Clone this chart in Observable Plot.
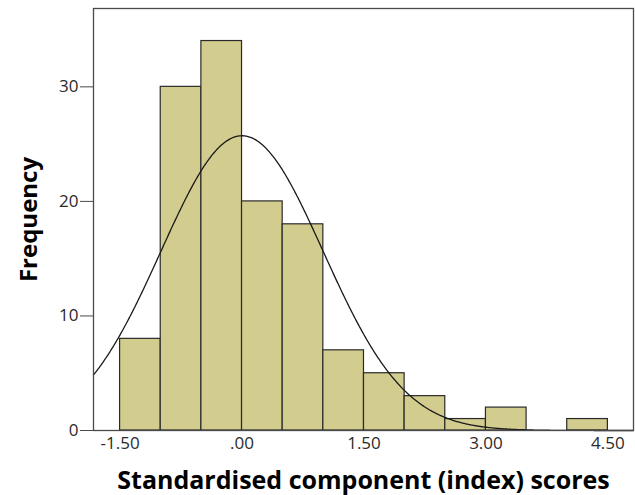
<!DOCTYPE html>
<html>
<head>
<meta charset="utf-8">
<script src="https://cdn.jsdelivr.net/npm/d3@7"></script>
<script src="https://cdn.jsdelivr.net/npm/@observablehq/plot@0.6"></script>
<style>
  html, body { margin: 0; padding: 0; background: #fff; }
  #chart svg { display: block; }
</style>
</head>
<body>
<div id="chart"></div>
<script>
// Histogram bins (lower edges) and frequencies
const binStarts = [-1.5, -1.0, -0.5, 0.0, 0.5, 1.0, 1.5, 2.0, 2.5, 3.0, 3.5, 4.0];
const counts    = [8, 30, 34, 20, 18, 7, 5, 3, 1, 2, 0, 1];
const binWidth = 0.5;
const xTicks = [-1.5, 0, 1.5, 3.0, 4.5];
const yTicks = [0, 10, 20, 30];
// Fitted normal curve parameters (standardised scores)
const curveMean = 0;
const curveSd = 1;

const xDomain = [-1.827, 4.815];
const yDomain = [0, 36.84];

const bars = binStarts.map((b, i) => ({x1: b, x2: b + binWidth, y: counts[i]})).filter(d => d.y > 0);
const n = d3.sum(counts);
const curve = d3.range(xDomain[0], xDomain[1] + 1e-9, 0.01).map(x => ({
  x,
  y: n * binWidth / (curveSd * Math.sqrt(2 * Math.PI)) * Math.exp(-0.5 * ((x - curveMean) / curveSd) ** 2)
}));

const fmt = d => d === 0 ? ".00" : d.toFixed(2);

const chart = Plot.plot({
  width: 635,
  height: 495,
  marginLeft: 93,
  marginRight: 2,
  marginTop: 8,
  marginBottom: 65,
  style: {fontFamily: "'Open Sans', sans-serif", background: "#fff"},
  x: {domain: xDomain},
  y: {domain: yDomain},
  marks: [
    Plot.rectY(bars, {x1: "x1", x2: "x2", y: "y", fill: "#d2cc8e", stroke: "#2a2a2a", strokeWidth: 1.2, inset: 0}),
    Plot.line(curve, {x: "x", y: "y", stroke: "#1a1a1a", strokeWidth: 1.3}),
    Plot.frame({stroke: "#4a4a4a", strokeWidth: 1.3}),
    Plot.axisX({ticks: xTicks, tickFormat: fmt, tickSize: 0, tickPadding: 6, fontSize: 17, label: null, color: "#2a2a2a"}),
    Plot.axisY({ticks: yTicks, tickFormat: d => String(d), tickSize: 13, tickPadding: 2, fontSize: 17, label: null, stroke: "#4a4a4a", color: "#2a2a2a"}),
    Plot.text(["Standardised component (index) scores"], {frameAnchor: "bottom", dy: 58, text: d => d, fontSize: 25, fontWeight: "bold", fill: "#000", lineAnchor: "bottom", textAnchor: "middle"}),
    Plot.text(["Frequency"], {frameAnchor: "left", dx: -64, text: d => d, rotate: -90, fontSize: 24, fontWeight: "bold", fill: "#000", lineAnchor: "middle", textAnchor: "middle"})
  ]
});
document.getElementById("chart").appendChild(chart);
</script>
</body>
</html>
